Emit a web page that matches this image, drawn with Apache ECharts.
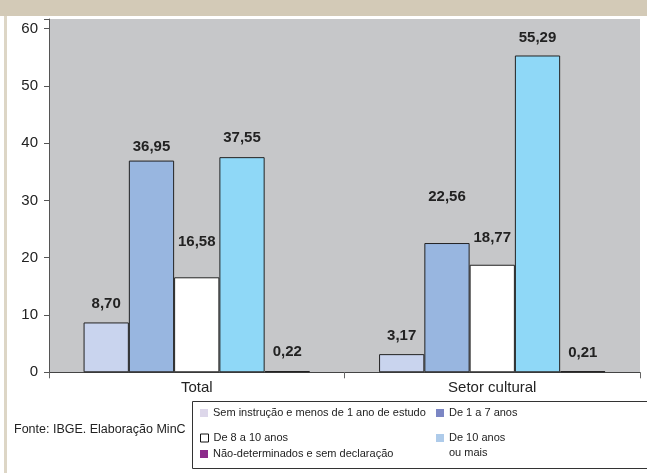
<!DOCTYPE html>
<html>
<head>
<meta charset="utf-8">
<script src="https://cdn.jsdelivr.net/npm/echarts@6/dist/echarts.min.js"></script>
<style>
html,body{margin:0;padding:0;background:#fff;}
#c{width:647px;height:473px;}
</style>
</head>
<body>
<div id="c"></div>
<script>
// ---- data ----
const categories = ['Total', 'Setor cultural'];
const seriesNames = [
  'Sem instrução e menos de 1 ano de estudo',
  'De 1 a 7 anos',
  'De 8 a 10 anos',
  'De 10 anos ou mais',
  'Não-determinados e sem declaração'
];
const semInstrucao = [8.70, 3.17];
const de1a7 = [36.95, 22.56];
const de8a10 = [16.58, 18.77];
const de10ouMais = [37.55, 55.29];
const naoDeterminados = [0.22, 0.21];
const yTickValues = [0, 10, 20, 30, 40, 50, 60];
const sourceNote = 'Fonte: IBGE. Elaboração MinC';

// ---- styles ----
const barColors = ['#c9d4ee', '#98b6e0', '#ffffff', '#8fd8f7', '#5a1a4a'];
const legendColors = ['#ddd7ea', '#7b86c4', '#ffffff', '#aecbea', '#8b2a8a'];
// extra label lift (px) per series per category, to mimic the source label placement
const labelLift = [[6, 5.5], [1.5, 33.5], [23, 14.5], [6.5, 5], [6.5, 5.5]];
const SANS = '"Liberation Sans", Arial, sans-serif';

const allValues = [semInstrucao, de1a7, de8a10, de10ouMais, naoDeterminados];
const fmt = v => v.toFixed(2).replace('.', ',');

const series = allValues.map((vals, si) => ({
  name: seriesNames[si],
  type: 'bar',
  barGap: '0%',
  barCategoryGap: '23.4%',
  itemStyle: { color: barColors[si], borderColor: '#222', borderWidth: 1 },
  label: {
    show: true, position: 'top', distance: 5,
    fontFamily: SANS, fontWeight: 'bold', fontSize: 15, color: '#222',
    formatter: p => fmt(p.value)
  },
  data: vals.map((v, ci) => ({ value: v, label: { offset: [0, -labelLift[si][ci]] } }))
}));

function legendItem(si, left, top, extra) {
  return Object.assign({
    left: left, top: top, orient: 'vertical', padding: 0,
    itemWidth: 8, itemHeight: 8, icon: 'rect', itemGap: 0,
    selectedMode: false,
    textStyle: { fontFamily: SANS, fontSize: 11, color: '#222' },
    data: [{ name: seriesNames[si], icon: 'rect',
      itemStyle: si === 2 ? { color: '#fff', borderColor: '#111', borderWidth: 1 } : { color: legendColors[si], borderWidth: 0 } }]
  }, extra || {});
}

const chart = echarts.init(document.getElementById('c'), null, { renderer: 'canvas' });
chart.setOption({
  animation: false,
  backgroundColor: '#ffffff',
  grid: {
    left: 49, right: 7, top: 19, bottom: 100.7,
    show: true, backgroundColor: '#c6c7c9', borderWidth: 0, containLabel: false
  },
  xAxis: {
    type: 'category', data: categories,
    axisLine: { lineStyle: { color: '#444', width: 1 } },
    axisTick: { show: true, length: 6, lineStyle: { color: '#666' } },
    axisLabel: { fontFamily: SANS, fontSize: 15, color: '#222', margin: 8 }
  },
  yAxis: {
    type: 'value', min: 0, max: 61.66, interval: 10,
    splitLine: { show: false },
    axisLine: { show: true, lineStyle: { color: '#555', width: 1 } },
    axisTick: { show: true, length: 5, lineStyle: { color: '#555' } },
    axisLabel: {
      fontFamily: SANS, fontSize: 15, color: '#222', margin: 11,
      formatter: v => (yTickValues.indexOf(Math.round(v * 100) / 100) >= 0 ? String(v) : '')
    }
  },
  legend: [
    legendItem(0, 200, 407.5),
    legendItem(2, 200, 432.5),
    legendItem(4, 200, 448.5),
    legendItem(1, 436, 407.5),
    legendItem(3, 436, 432.5, { formatter: () => 'De 10 anos' })
  ],
  graphic: [
    { type: 'rect', silent: true, z: -10, shape: { x: 0, y: 0, width: 647, height: 16 }, style: { fill: '#d3cab7' } },
    { type: 'rect', silent: true, z: -10, shape: { x: 4, y: 16, width: 3, height: 457 }, style: { fill: '#ddd6c6' } },
    { type: 'rect', silent: true, z: -5, shape: { x: 192.5, y: 401.5, width: 470, height: 67 },
      style: { fill: 'transparent', stroke: '#333', lineWidth: 1 } },
    { type: 'text', silent: true, x: 449, y: 453,
      style: { text: 'ou mais', fontFamily: SANS, fontSize: 11, fill: '#222', verticalAlign: 'middle' } },
    { type: 'text', silent: true, x: 14, y: 430,
      style: { text: sourceNote, fontFamily: SANS, fontSize: 12.5, fill: '#222', verticalAlign: 'middle' } }
  ],
  series: series
});
</script>
</body>
</html>
